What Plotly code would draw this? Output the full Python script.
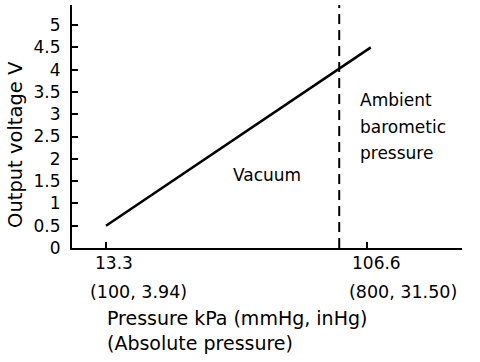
import plotly.graph_objects as go

# Data
pressure_kpa = [13.3, 108.0]
output_v = [0.5, 4.5]
ambient_kpa = 96.7
y_ticks = [0, 0.5, 1, 1.5, 2, 2.5, 3, 3.5, 4, 4.5, 5]
y_tick_text = ["0", "0.5", "1", "1.5", "2", "2.5", "3", "3.5", "4", "4.5", "5"]
x_ticks = [13.3, 106.6]
x_tick_line1 = ["13.3", "106.6"]
x_tick_line2 = ["(100, 3.94)", "(800, 31.50)"]

FONT = "DejaVu Sans"
fig = go.Figure()

fig.add_trace(go.Scatter(x=pressure_kpa, y=output_v, mode="lines",
                         line=dict(color="black", width=2.5), showlegend=False))
fig.add_trace(go.Scatter(x=[ambient_kpa, ambient_kpa], y=[0, 5.45], mode="lines",
                         line=dict(color="black", width=2, dash="10px,6px"), showlegend=False))

fig.update_layout(
    width=480, height=362,
    margin=dict(l=72, r=18, t=5, b=114, autoexpand=False),
    paper_bgcolor="white", plot_bgcolor="white",
    font=dict(family=FONT, size=17, color="black"),
    xaxis=dict(range=[1.14, 140.6], showgrid=False, zeroline=False,
               showline=True, linecolor="black", linewidth=2, automargin=False,
               ticks="inside", ticklen=6, tickwidth=1.5, tickcolor="black",
               tickvals=x_ticks, showticklabels=False),
    yaxis=dict(range=[0, 5.45], showgrid=False, zeroline=False,
               showline=True, linecolor="black", linewidth=2, automargin=False,
               ticks="inside", ticklen=6, tickwidth=1.5, tickcolor="black",
               tickvals=y_ticks, ticktext=y_tick_text, ticklabelstandoff=6,
               tickfont=dict(family=FONT, size=17, color="black")),
)

anns = []
shifts1 = [-13, -17]
shifts2 = [-18, -20]
for i, xv in enumerate(x_ticks):
    anns.append(dict(x=xv, xref="x", y=0, yref="paper", text=x_tick_line1[i],
                     xanchor="left", yanchor="middle", xshift=shifts1[i], yshift=-15,
                     showarrow=False, font=dict(size=17)))
    anns.append(dict(x=xv, xref="x", y=0, yref="paper", text=x_tick_line2[i],
                     xanchor="left", yanchor="middle", xshift=shifts2[i], yshift=-44,
                     showarrow=False, font=dict(size=17.5)))

anns.append(dict(x=0, xref="paper", y=0, yref="paper", text="Pressure kPa (mmHg, inHg)",
                 xanchor="left", yanchor="middle", xshift=33, yshift=-70,
                 showarrow=False, font=dict(size=19)))
anns.append(dict(x=0, xref="paper", y=0, yref="paper", text="(Absolute pressure)",
                 xanchor="left", yanchor="middle", xshift=33, yshift=-95,
                 showarrow=False, font=dict(size=19)))
anns.append(dict(x=0, xref="paper", y=0.424, yref="paper", text="Output voltage V",
                 textangle=-90, xanchor="center", yanchor="middle", xshift=-56,
                 showarrow=False, font=dict(size=19.5)))
anns.append(dict(x=70.9, y=1.64, text="Vacuum", showarrow=False,
                 xanchor="center", yanchor="middle", font=dict(size=17)))
for txt, yv in zip(["Ambient", "barometic", "pressure"], [3.32, 2.71, 2.13]):
    anns.append(dict(x=103.4, y=yv, text=txt, showarrow=False,
                     xanchor="left", yanchor="middle", font=dict(size=17)))

fig.update_layout(annotations=anns)
fig.write_html("out.html", config={"displayModeBar": False},
               post_script="document.body.style.margin='0';")
